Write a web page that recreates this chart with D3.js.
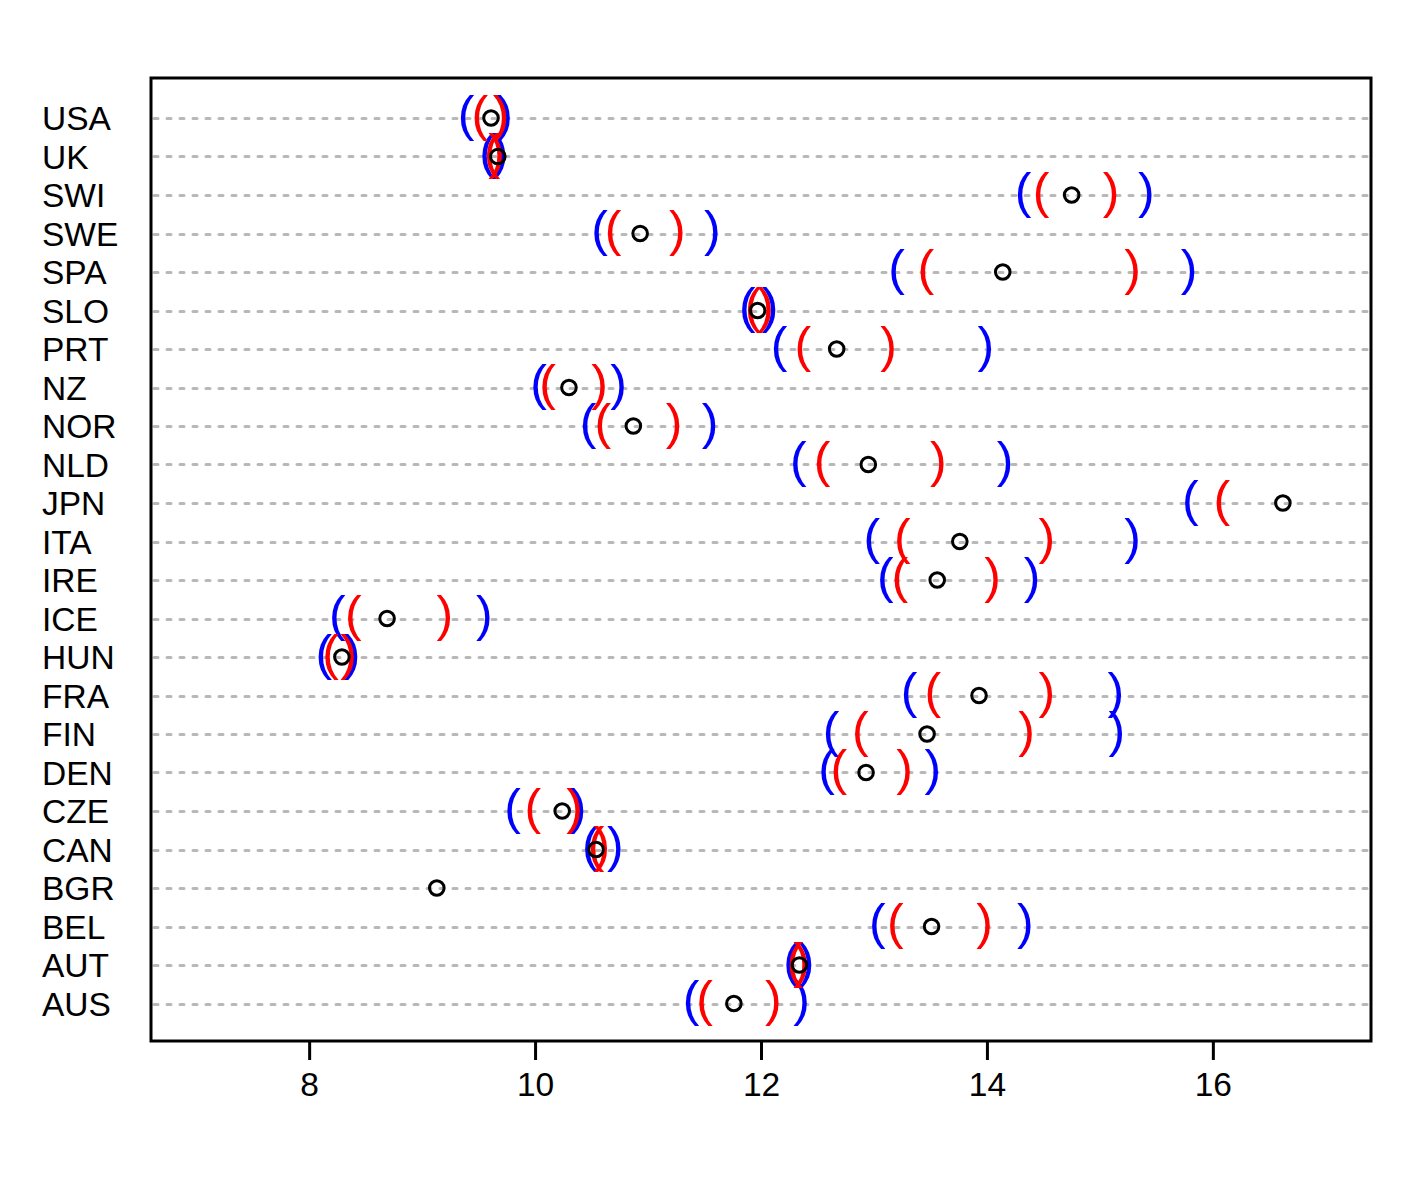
<!DOCTYPE html>
<html>
<head>
<meta charset="utf-8">
<script src="https://cdn.jsdelivr.net/npm/d3@7"></script>
<style>
  html, body { margin: 0; padding: 0; background: #fff; }
  svg { display: block; }
</style>
</head>
<body>
<div id="chart"></div>
<script>
// countries, top row first
var countries = ["USA", "UK", "SWI", "SWE", "SPA", "SLO", "PRT", "NZ", "NOR", "NLD", "JPN", "ITA",
                 "IRE", "ICE", "HUN", "FRA", "FIN", "DEN", "CZE", "CAN", "BGR", "BEL", "AUT", "AUS"];

// point estimates
var estimate = [9.61, 9.67, 14.75, 10.93, 14.14, 11.97, 12.67, 10.30, 10.87, 12.95, 16.62, 13.76,
                13.56, 8.69, 8.29, 13.93, 13.47, 12.93, 10.24, 10.54, 9.13, 13.51, 12.34, 11.76];

// inner interval (red)
var innerLo = [9.51, 9.62, 14.48, 10.69, 13.46, 11.93, 12.37, 10.11, 10.60, 12.54, 16.08, 13.25,
               13.23, 8.39, 8.19, 13.52, 12.88, 12.69, 9.98, 10.54, null, 13.19, 12.30, 11.50];
var innerHi = [9.70, 9.66, 15.10, 11.26, 15.29, 12.04, 13.13, 10.57, 11.23, 13.57, null, 14.53,
               14.05, 9.20, 8.35, 14.53, 14.35, 13.27, 10.35, 10.59, null, 13.98, 12.36, 12.11];

// outer interval (blue)
var outerLo = [9.39, 9.58, 14.32, 10.57, 13.20, 11.88, 12.16, 10.03, 10.47, 12.33, 15.80, 12.98,
               13.10, 8.25, 8.13, 13.31, 12.62, 12.58, 9.80, 10.49, null, 13.03, 12.27, 11.38];
var outerHi = [9.73, 9.69, 15.41, 11.57, 15.79, 12.08, 13.99, 10.74, 11.55, 14.16, null, 15.29,
               14.40, 9.55, 8.38, 15.14, 15.15, 13.52, 10.38, 10.71, null, 14.34, 12.40, 12.36];

var xTicks = [8, 10, 12, 14, 16];

var W = 1417, H = 1181;
var box = {left: 151, right: 1371, top: 78, bottom: 1041};
var n = countries.length;

var svg = d3.select("#chart").append("svg")
    .attr("width", W)
    .attr("height", H);

var x = d3.scaleLinear()
    .domain([6.6, 17.4])
    .range([box.left, box.right]);

// row 1 at the bottom (AUS), row n at the top (USA)
var y = d3.scaleLinear()
    .domain([1, n])
    .range([1003.5, 118]);

function rowY(i) { return y(n - i); }

var font = "'Liberation Sans', Arial, Helvetica, sans-serif";

// dotted guide lines (snapped so the 3px stroke stays crisp)
svg.append("g").selectAll("line")
    .data(countries)
    .enter().append("line")
    .attr("x1", box.left + 3)
    .attr("x2", box.right - 3)
    .attr("y1", function(d, i) { return Math.round(rowY(i)) + 0.5; })
    .attr("y2", function(d, i) { return Math.round(rowY(i)) + 0.5; })
    .attr("stroke", "#b8b8b8")
    .attr("stroke-width", 3)
    .attr("stroke-linecap", "round")
    .attr("stroke-dasharray", "4,9");

// row labels
svg.append("g").selectAll("text")
    .data(countries)
    .enter().append("text")
    .text(function(d) { return d; })
    .attr("x", 42)
    .attr("y", function(d, i) { return rowY(i) + 12; })
    .attr("font-family", font)
    .attr("font-size", "33.5px")
    .attr("fill", "black");

// parentheses for the interval ends
var parenSize = 50;
function drawParens(values, glyph, color) {
    var rows = [];
    values.forEach(function(v, i) { if (v != null) rows.push({v: v, i: i}); });
    svg.append("g").selectAll("text")
        .data(rows)
        .enter().append("text")
        .text(glyph)
        .attr("x", function(d) { return x(d.v); })
        .attr("y", function(d) { return rowY(d.i) + 0.258 * parenSize; })
        .attr("text-anchor", "middle")
        .attr("font-family", font)
        .attr("font-size", parenSize + "px")
        .attr("fill", color);
}

drawParens(outerLo, "(", "#0000ff");
drawParens(outerHi, ")", "#0000ff");
drawParens(innerLo, "(", "#ff0000");
drawParens(innerHi, ")", "#ff0000");

// point estimates
svg.append("g").selectAll("circle")
    .data(estimate)
    .enter().append("circle")
    .attr("cx", function(d) { return x(d); })
    .attr("cy", function(d, i) { return rowY(i); })
    .attr("r", 7.3)
    .attr("fill", "none")
    .attr("stroke", "black")
    .attr("stroke-width", 3);

// x axis
var axis = svg.append("g")
    .attr("transform", "translate(0," + box.bottom + ")")
    .call(d3.axisBottom(x).tickValues(xTicks).tickSize(19).tickPadding(12).tickFormat(d3.format("d")));
axis.select(".domain").remove();
axis.selectAll("line").attr("stroke", "black").attr("stroke-width", 3);
axis.selectAll("text")
    .attr("font-family", font)
    .attr("font-size", "33.5px")
    .attr("fill", "black");

// plot frame
svg.append("rect")
    .attr("x", box.left)
    .attr("y", box.top)
    .attr("width", box.right - box.left)
    .attr("height", box.bottom - box.top)
    .attr("fill", "none")
    .attr("stroke", "black")
    .attr("stroke-width", 3);
</script>
</body>
</html>
